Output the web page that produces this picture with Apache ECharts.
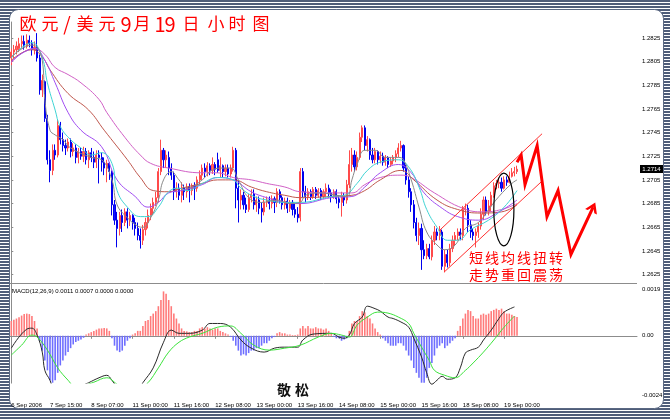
<!DOCTYPE html>
<html>
<head>
<meta charset="utf-8">
<script src="https://cdn.jsdelivr.net/npm/echarts@6.0.0/dist/echarts.min.js"></script>
<style>
html,body{margin:0;padding:0;overflow:hidden;}
body{width:670px;height:419px;background:repeating-linear-gradient(180deg,#4f5d79 0px,#4f5d79 2px,#ffffff 2px,#ffffff 3px);}
#chart{width:670px;height:419px;}
</style>
</head>
<body>
<div id="chart"></div>
<script>
// ---------------- DATA ----------------
const opens = [
1.2808,1.2813,1.2815,1.2816,1.2820,1.2822,1.2818,1.2823,1.2820,1.2815,
1.2817,1.2808,1.2781,1.2788,1.2757,1.2722,1.2713,1.2730,1.2726,1.2751,
1.2739,1.2734,1.2732,1.2737,1.2729,1.2732,1.2724,1.2729,1.2725,1.2729,
1.2722,1.2728,1.2724,1.2720,1.2726,1.2724,1.2720,1.2715,1.2719,1.2712,
1.2684,1.2671,1.2664,1.2675,1.2669,1.2678,1.2671,1.2675,1.2669,1.2664,
1.2658,1.2654,1.2663,1.2669,1.2675,1.2681,1.2686,1.2690,1.2712,1.2730,
1.2722,1.2724,1.2715,1.2709,1.2695,1.2698,1.2692,1.2698,1.2695,1.2699,
1.2696,1.2700,1.2698,1.2705,1.2709,1.2715,1.2712,1.2717,1.2713,1.2718,
1.2722,1.2713,1.2717,1.2712,1.2715,1.2710,1.2715,1.2730,1.2698,1.2688,
1.2692,1.2684,1.2680,1.2690,1.2693,1.2684,1.2688,1.2681,1.2678,1.2686,
1.2688,1.2685,1.2689,1.2686,1.2695,1.2690,1.2684,1.2687,1.2681,1.2686,
1.2680,1.2676,1.2673,1.2712,1.2695,1.2691,1.2695,1.2691,1.2697,1.2692,
1.2696,1.2691,1.2695,1.2698,1.2694,1.2691,1.2695,1.2689,1.2686,1.2691,
1.2688,1.2701,1.2718,1.2726,1.2716,1.2724,1.2741,1.2749,1.2734,1.2739,
1.2726,1.2722,1.2729,1.2722,1.2725,1.2720,1.2724,1.2718,1.2721,1.2724,
1.2727,1.2732,1.2734,1.2715,1.2705,1.2695,1.2684,1.2669,1.2658,1.2664,
1.2646,1.2641,1.2647,1.2640,1.2654,1.2661,1.2658,1.2661,1.2632,1.2642,
1.2635,1.2647,1.2654,1.2658,1.2661,1.2658,1.2680,1.2681,1.2667,1.2661,
1.2658,1.2661,1.2666,1.2676,1.2688,1.2678,1.2683,1.2692,1.2700,1.2702,
1.2703,1.2698,1.2705,1.2703,1.2708,1.2711,1.2712];
const closes = [
1.2813,1.2815,1.2818,1.2820,1.2822,1.2818,1.2823,1.2820,1.2815,1.2817,
1.2808,1.2781,1.2789,1.2757,1.2722,1.2713,1.2730,1.2726,1.2751,1.2739,
1.2734,1.2732,1.2737,1.2729,1.2732,1.2724,1.2729,1.2725,1.2729,1.2722,
1.2728,1.2724,1.2720,1.2726,1.2724,1.2720,1.2715,1.2719,1.2712,1.2684,
1.2671,1.2664,1.2675,1.2669,1.2678,1.2671,1.2675,1.2669,1.2664,1.2658,
1.2654,1.2663,1.2669,1.2675,1.2681,1.2686,1.2690,1.2712,1.2730,1.2722,
1.2726,1.2715,1.2709,1.2695,1.2698,1.2692,1.2698,1.2695,1.2699,1.2696,
1.2700,1.2698,1.2705,1.2709,1.2715,1.2712,1.2717,1.2713,1.2718,1.2714,
1.2713,1.2717,1.2712,1.2715,1.2710,1.2715,1.2730,1.2698,1.2688,1.2692,
1.2684,1.2680,1.2690,1.2693,1.2684,1.2688,1.2681,1.2678,1.2686,1.2688,
1.2685,1.2689,1.2686,1.2695,1.2690,1.2684,1.2687,1.2681,1.2686,1.2680,
1.2676,1.2673,1.2712,1.2695,1.2691,1.2695,1.2691,1.2697,1.2692,1.2696,
1.2691,1.2695,1.2698,1.2694,1.2691,1.2695,1.2689,1.2686,1.2691,1.2688,
1.2701,1.2718,1.2726,1.2716,1.2724,1.2741,1.2749,1.2734,1.2739,1.2726,
1.2722,1.2729,1.2722,1.2725,1.2720,1.2724,1.2718,1.2721,1.2724,1.2727,
1.2732,1.2734,1.2715,1.2705,1.2695,1.2684,1.2669,1.2658,1.2664,1.2646,
1.2641,1.2647,1.2640,1.2654,1.2661,1.2658,1.2663,1.2632,1.2642,1.2635,
1.2647,1.2654,1.2658,1.2661,1.2658,1.2680,1.2681,1.2667,1.2661,1.2658,
1.2661,1.2666,1.2676,1.2688,1.2678,1.2683,1.2692,1.2700,1.2702,1.2703,
1.2698,1.2705,1.2703,1.2708,1.2711,1.2712,1.2714];
const lows = [
1.2802,1.2808,1.2811,1.2813,1.2816,1.2815,1.2816,1.2817,1.2810,1.2811,
1.2805,1.2777,1.2775,1.2754,1.2718,1.2703,1.2709,1.2722,1.2724,1.2735,
1.2729,1.2726,1.2729,1.2724,1.2725,1.2719,1.2719,1.2722,1.2720,1.2718,
1.2715,1.2720,1.2715,1.2715,1.2702,1.2712,1.2709,1.2703,1.2705,1.2675,
1.2667,1.2648,1.2658,1.2661,1.2666,1.2664,1.2666,1.2663,1.2658,1.2654,
1.2647,1.2650,1.2658,1.2664,1.2671,1.2676,1.2683,1.2686,1.2709,1.2715,
1.2715,1.2709,1.2705,1.2688,1.2690,1.2688,1.2686,1.2688,1.2690,1.2686,
1.2692,1.2688,1.2695,1.2701,1.2705,1.2707,1.2708,1.2709,1.2710,1.2709,
1.2711,1.2707,1.2707,1.2708,1.2707,1.2707,1.2712,1.2681,1.2669,1.2680,
1.2680,1.2677,1.2678,1.2686,1.2680,1.2678,1.2676,1.2669,1.2675,1.2682,
1.2680,1.2681,1.2677,1.2682,1.2685,1.2680,1.2680,1.2677,1.2678,1.2675,
1.2673,1.2669,1.2670,1.2690,1.2686,1.2688,1.2688,1.2689,1.2689,1.2690,
1.2688,1.2689,1.2691,1.2690,1.2686,1.2689,1.2685,1.2681,1.2674,1.2683,
1.2685,1.2698,1.2712,1.2712,1.2713,1.2722,1.2737,1.2730,1.2729,1.2722,
1.2719,1.2719,1.2718,1.2719,1.2717,1.2717,1.2715,1.2716,1.2718,1.2720,
1.2724,1.2729,1.2712,1.2701,1.2690,1.2678,1.2664,1.2653,1.2650,1.2629,
1.2638,1.2638,1.2638,1.2637,1.2650,1.2654,1.2654,1.2629,1.2627,1.2631,
1.2632,1.2644,1.2649,1.2654,1.2654,1.2654,1.2675,1.2661,1.2656,1.2654,
1.2648,1.2656,1.2663,1.2671,1.2675,1.2675,1.2678,1.2690,1.2697,1.2698,
1.2695,1.2697,1.2700,1.2702,1.2707,1.2708,1.2710];
const highs = [
1.2816,1.2819,1.2822,1.2825,1.2827,1.2827,1.2828,1.2827,1.2823,1.2822,
1.2829,1.2811,1.2794,1.2789,1.2760,1.2730,1.2735,1.2735,1.2756,1.2754,
1.2745,1.2739,1.2740,1.2740,1.2736,1.2735,1.2732,1.2732,1.2733,1.2732,
1.2730,1.2732,1.2729,1.2730,1.2730,1.2728,1.2724,1.2722,1.2720,1.2713,
1.2688,1.2678,1.2678,1.2680,1.2681,1.2681,1.2678,1.2676,1.2673,1.2669,
1.2664,1.2667,1.2673,1.2680,1.2685,1.2690,1.2695,1.2715,1.2739,1.2732,
1.2730,1.2729,1.2719,1.2712,1.2703,1.2702,1.2703,1.2701,1.2702,1.2702,
1.2702,1.2703,1.2708,1.2713,1.2718,1.2719,1.2720,1.2719,1.2724,1.2720,
1.2728,1.2724,1.2718,1.2718,1.2718,1.2718,1.2733,1.2732,1.2705,1.2697,
1.2695,1.2690,1.2693,1.2697,1.2697,1.2691,1.2691,1.2686,1.2690,1.2691,
1.2691,1.2692,1.2691,1.2698,1.2697,1.2692,1.2690,1.2690,1.2688,1.2688,
1.2685,1.2682,1.2715,1.2715,1.2700,1.2698,1.2697,1.2699,1.2699,1.2698,
1.2698,1.2697,1.2702,1.2701,1.2697,1.2697,1.2697,1.2692,1.2695,1.2694,
1.2705,1.2730,1.2732,1.2730,1.2729,1.2745,1.2751,1.2751,1.2742,1.2740,
1.2732,1.2732,1.2730,1.2729,1.2728,1.2726,1.2725,1.2724,1.2726,1.2730,
1.2736,1.2738,1.2735,1.2718,1.2708,1.2698,1.2688,1.2673,1.2669,1.2668,
1.2654,1.2651,1.2651,1.2658,1.2666,1.2664,1.2666,1.2663,1.2646,1.2646,
1.2651,1.2658,1.2661,1.2664,1.2664,1.2683,1.2685,1.2684,1.2671,1.2664,
1.2664,1.2669,1.2681,1.2691,1.2691,1.2688,1.2695,1.2703,1.2705,1.2707,
1.2707,1.2708,1.2708,1.2712,1.2715,1.2716,1.2717];

// moving-average lines: [bar index] / [price]
const maGrayX = [0,8,12,13,15,17,20,23,31,35,39,41,45,49,51,54,57,59,62,65,68,74,77,81,85,88,92,97,103,108,112,114,120,126,130,132,134,137,141,145,150,152,155,158,161,165,168,172,176,181,185,189,194,196];
const maGrayY = [1.2809,1.2819,1.2806,1.2773,1.2747,1.2743,1.2739,1.2732,1.2724,1.2722,1.2705,1.2684,1.2673,1.2666,1.2665,1.2673,1.2688,1.2705,1.2712,1.2705,1.2698,1.2705,1.2712,1.2715,1.2715,1.2705,1.2690,1.2686,1.2688,1.2685,1.2686,1.2692,1.2694,1.2692,1.2691,1.2705,1.2718,1.2730,1.2730,1.2724,1.2724,1.2722,1.2705,1.2682,1.2661,1.2650,1.2646,1.2650,1.2664,1.2669,1.2680,1.2691,1.2702,1.2705];
const maCyanX = [0,8,12,14,17,19,23,27,31,35,39,41,45,50,53,57,61,65,68,74,80,86,89,94,99,106,112,124,129,134,138,143,150,154,158,161,165,169,173,178,185,191,196];
const maCyanY = [1.2808,1.2821,1.2808,1.2787,1.2764,1.2750,1.2739,1.2732,1.2726,1.2728,1.2719,1.2696,1.2682,1.2674,1.2674,1.2682,1.2695,1.2698,1.2696,1.2702,1.2707,1.2705,1.2698,1.2691,1.2688,1.2686,1.2686,1.2691,1.2692,1.2702,1.2713,1.2720,1.2722,1.2716,1.2699,1.2680,1.2665,1.2654,1.2654,1.2663,1.2671,1.2682,1.2696];
const maPurpleX = [0,9,13,17,22,27,35,41,48,53,57,61,66,74,80,86,93,99,106,112,124,132,137,143,150,155,160,167,173,181,189,196];
const maPurpleY = [1.2805,1.2816,1.2806,1.2787,1.2762,1.2747,1.2733,1.2705,1.2691,1.2682,1.2686,1.2694,1.2696,1.2701,1.2707,1.2705,1.2695,1.2690,1.2686,1.2685,1.2690,1.2691,1.2699,1.2711,1.2718,1.2711,1.2694,1.2681,1.2674,1.2671,1.2678,1.2688];
const maBrownX = [0,8,12,15,22,30,36,45,50,55,61,66,74,80,86,93,99,106,112,124,132,137,143,151,156,165,173,182,190,196];
const maBrownY = [1.2806,1.2815,1.2809,1.2798,1.2778,1.2764,1.2747,1.2722,1.2707,1.2696,1.2695,1.2698,1.2702,1.2705,1.2705,1.2699,1.2695,1.2692,1.2690,1.2691,1.2692,1.2696,1.2705,1.2713,1.2705,1.2688,1.2680,1.2677,1.2678,1.2684];
const maMagentaX = [0,4,9,13,17,22,27,34,37,44,50,54,61,74,80,86,93,99,106,112,124,132,137,143,151,155,164,175,183,190,196];
const maMagentaY = [1.2804,1.2812,1.2816,1.2811,1.2800,1.2794,1.2787,1.2773,1.2762,1.2741,1.2726,1.2719,1.2715,1.2711,1.2711,1.2707,1.2705,1.2702,1.2699,1.2695,1.2694,1.2694,1.2701,1.2707,1.2709,1.2707,1.2694,1.2681,1.2678,1.2680,1.2685];

// MACD histogram (one value per bar)
const macdHist = [
0.0006,0.00065,0.0007,0.00075,0.00082,0.00088,0.0009,0.00088,0.0008,0.0006,
0.0003,-0.0002,-0.0006,-0.001,-0.0014,-0.0018,-0.0019,-0.0018,-0.0015,-0.0012,
-0.001,-0.0008,-0.00066,-0.0005,-0.00035,-0.00025,-0.0002,-0.00015,-0.00008,0.00005,
0.0001,0.00015,0.0002,0.00025,0.0003,0.0003,0.00032,0.0003,0.0002,-0.0001,
-0.0004,-0.0006,-0.00066,-0.0006,-0.0004,-0.0002,-0.0001,0.00005,0.0001,0.0002,
0.0002,0.0004,0.0006,0.00064,0.0008,0.0009,0.001,0.0012,0.00145,0.0018,
0.0017,0.00145,0.0012,0.0009,0.0007,0.0005,0.0003,0.0002,0.00018,0.00015,
0.00015,0.0002,0.0002,0.0003,0.00035,0.0003,0.00035,0.0003,0.00025,0.0003,
0.0003,0.0002,0.00015,0.0001,0.00005,-0.00005,-0.0002,-0.0004,-0.0006,-0.0008,
-0.00075,-0.0008,-0.0007,-0.0006,-0.0006,-0.0005,-0.0005,-0.0004,-0.0003,-0.0003,
-0.0002,-0.0001,-0.00005,0.0001,0.00015,0.0001,0.0001,0.00005,0.00005,0.00003,
0.00003,0.00005,0.0003,0.0004,0.0003,0.0004,0.0003,0.0003,0.00035,0.0003,
0.0003,0.00025,0.0003,0.0002,0.0001,-0.00005,-0.0001,-0.0001,-0.0002,-0.00015,
-0.0001,0.0002,0.0005,0.0006,0.0006,0.0008,0.001,0.00095,0.0008,0.0007,
0.0005,0.0003,0.00015,0.00005,-0.0001,-0.0002,-0.0003,-0.0004,-0.0004,-0.0004,
-0.0003,-0.0003,-0.0004,-0.0006,-0.0008,-0.001,-0.0013,-0.0015,-0.0017,-0.0019,
-0.0019,-0.0017,-0.0013,-0.0011,-0.0008,-0.0005,-0.0004,-0.0003,-0.0005,-0.0004,
-0.0003,-0.0002,-0.0001,0.0002,0.0004,0.0007,0.0009,0.00105,0.001,0.0008,
0.0007,0.0007,0.00085,0.0009,0.00085,0.0009,0.001,0.00105,0.0011,0.00105,
0.0011,0.001,0.0009,0.0009,0.00085,0.0008,0.00076];
// MACD main (black) and signal (green) lines, sampled
const macdLineX = [0,6,8,10,12,13,15,17,21,25,28,30,34,37,39,42,46,49,51,55,59,62,65,69,74,77,81,85,89,93,98,102,106,111,113,117,124,127,129,131,133,136,138,141,143,146,148,151,154,156,159,161,163,165,167,169,172,174,176,178,181,183,186,189,191,195];
const macdLineY = [-0.0005,0.00027,0.00031,0.00003,-0.00066,-0.0014,-0.0018,-0.0023,-0.0024,-0.0023,-0.002,-0.0019,-0.0017,-0.0016,-0.0018,-0.0022,-0.0023,-0.0022,-0.0019,-0.0013,-0.00026,0.00023,0.0001,0.0001,0.00023,0.0005,0.0005,0.00035,-0.00017,-0.0005,-0.00066,-0.0005,-0.00046,-0.00046,-0.00017,0.00007,0.0001,-0.00005,-0.0001,0.00003,0.0005,0.00076,0.0012,0.0011,0.001,0.00076,0.0007,0.00056,0.00035,-0.0001,-0.00086,-0.0015,-0.00196,-0.0018,-0.00164,-0.00176,-0.0017,-0.0013,-0.0007,-0.00058,-0.00046,-0.00017,0.00023,0.0007,0.00096,0.00117];
const macdSignalX = [0,4,8,10,14,18,22,26,29,32,37,41,45,50,53,57,61,65,69,74,80,85,89,94,100,106,112,119,124,128,131,134,138,142,146,150,154,156,159,162,164,168,172,176,179,183,187,191,195];
const macdSignalY = [-0.00078,-0.00038,0.00003,-0.00005,-0.00058,-0.0013,-0.0018,-0.0022,-0.002,-0.00188,-0.0017,-0.00196,-0.0022,-0.0021,-0.0019,-0.0013,-0.00066,-0.00026,-0.00005,0.0001,0.00035,0.0004,0.0001,-0.00038,-0.00058,-0.0005,-0.00038,-0.00005,0.0001,0.00003,-0.00005,0.00043,0.00076,0.00096,0.00092,0.00076,0.0005,0.0001,-0.00046,-0.001,-0.0014,-0.0016,-0.0017,-0.0014,-0.0011,-0.00066,-0.00017,0.00035,0.0008];

// axis ticks / labels
const priceTicks = [1.2825,1.2805,1.2785,1.2765,1.2745,1.2725,1.2705,1.2685,1.2665,1.2645,1.2625];
const macdTicks = [0.0019,0,-0.0024];
const macdTickLabels = ['0.0019','0.00','-0.0024'];
const timeLabelIdx = [0,15,31,47,63,79,95,111,127,143,159,175,191];
const timeLabels = ['6 Sep 2006','7 Sep 15:00','8 Sep 07:00','11 Sep 00:00','11 Sep 16:00','12 Sep 08:00','13 Sep 00:00','13 Sep 16:00','14 Sep 08:00','15 Sep 00:00','15 Sep 16:00','18 Sep 08:00','19 Sep 00:00'];

// hand-drawn annotations (in data units)
const upperChX = [165.8,205.7], upperChY = [1.2662,1.2744];
const lowerChX = [167.7,205.7], lowerChY = [1.2627,1.2704];
const zigX = [196.0,197.6,199.1,203.8,207.6,211.9,216.9,225.5];
const zigY = [1.2720,1.2726,1.2701,1.2734,1.2674,1.2696,1.2642,1.2682];
const ellipseCenter = [190.9,1.2680], ellipseRadius = [3.9,0.00307];

// ---------------- CHART ----------------
const N_SLOTS = 243;
const cats = Array.from({length:N_SLOTS}, (_, i) => i);
const candleData = opens.map((o, i) => [o, closes[i], lows[i], highs[i]]);
const pair = (xs, ys) => xs.map((x, i) => [x, ys[i]]);
const FONT = "'Liberation Sans', Arial, sans-serif";
const CJK = "'Noto Sans CJK SC', sans-serif";

function maSeries(xs, ys, color) {
  return {type:'line', xAxisIndex:1, yAxisIndex:0, data:pair(xs, ys), symbol:'none',
    smooth:0.45, lineStyle:{color:color, width:1}, z:3};
}
const zigData = pair(zigX, zigY).map((p, i, a) => i === a.length - 1
  ? {value:p, symbol:'path://M0,12 L8,0 L16,12 L12.5,12 L8,5.5 L3.5,12 Z', symbolSize:[13,10], symbolRotate:-25}
  : {value:p});

const series = [
  {type:'candlestick', xAxisIndex:0, yAxisIndex:0, data:candleData, barWidth:1.6,
   itemStyle:{color:'#ff6a6a', color0:'#1414ff', borderColor:'#ff4a4a', borderColor0:'#0000ee', borderWidth:1}, z:2},
  maSeries(maMagentaX, maMagentaY, '#d160c6'),
  maSeries(maBrownX, maBrownY, '#c0584e'),
  maSeries(maPurpleX, maPurpleY, '#a24ef2'),
  maSeries(maCyanX, maCyanY, '#3fd4d4'),
  maSeries(maGrayX, maGrayY, '#8a8a8a'),
  {type:'line', xAxisIndex:1, yAxisIndex:0, data:pair(upperChX, upperChY), symbol:'none', lineStyle:{color:'#ff3030', width:1}, z:4},
  {type:'line', xAxisIndex:1, yAxisIndex:0, data:pair(lowerChX, lowerChY), symbol:'none', lineStyle:{color:'#ff3030', width:1}, z:4},
  {type:'line', xAxisIndex:1, yAxisIndex:0, data:zigData, symbol:'none', clip:false,
   lineStyle:{color:'#ff0000', width:3, join:'miter'}, itemStyle:{color:'#ff0000'}, z:5},
  {type:'bar', xAxisIndex:2, yAxisIndex:1, data:macdHist, barWidth:1.6,
   itemStyle:{color:p => p.value >= 0 ? '#ff7a7a' : '#6e6eff'}, z:2},
  {type:'line', xAxisIndex:3, yAxisIndex:1, data:pair(macdLineX, macdLineY), symbol:'none', smooth:0.4,
   lineStyle:{color:'#2a2a2a', width:1}, z:3},
  {type:'line', xAxisIndex:3, yAxisIndex:1, data:pair(macdSignalX, macdSignalY), symbol:'none', smooth:0.4,
   lineStyle:{color:'#3be33b', width:1}, z:3}
];
const ZIG = 8;

const titleChars = ['欧','元','/','美','元','9','月','1','9','日','小','时','图'];
const titleCx = [28,50,67,85,107,126,142,160,170,191,216,237,261];
const titleFs = [17,17,19,17,17,20,17,20,20,17,17,17,17];
const staticGraphics = [
  {type:'rect', z:-100, shape:{x:9.5, y:9.5, width:654, height:399, r:9}, style:{fill:'#ffffff', stroke:'#5a6882', lineWidth:1}},
  {type:'line', z:50, shape:{x1:10, y1:283.5, x2:637, y2:283.5}, style:{stroke:'#8c8c8c', lineWidth:1}},
  {type:'rect', z:60, shape:{x:10, y:383.5, width:321, height:16}, style:{fill:'#ffffff'}},
  {type:'text', z:70, x:12, y:291, style:{text:'MACD(12,26,9) 0.0011 0.0007 0.0000 0.0000', font:'6px ' + FONT, fill:'#000', verticalAlign:'middle'}},
  {type:'text', z:70, x:284, y:390, style:{text:'敬', font:'bold 14px ' + CJK, fill:'#111', align:'center', verticalAlign:'middle', shadowColor:'rgba(0,0,0,0.35)', shadowBlur:2, shadowOffsetX:2, shadowOffsetY:2}},
  {type:'text', z:70, x:302, y:390, style:{text:'松', font:'bold 14px ' + CJK, fill:'#111', align:'center', verticalAlign:'middle', shadowColor:'rgba(0,0,0,0.35)', shadowBlur:2, shadowOffsetX:2, shadowOffsetY:2}}
];
titleChars.forEach((ch, k) => staticGraphics.push({type:'text', z:70, x:titleCx[k], y:24,
  style:{text:ch, font:titleFs[k] + 'px ' + CJK, fill:'#ff0000', align:'center', verticalAlign:'middle',
  shadowColor:'rgba(0,0,0,0.3)', shadowBlur:2, shadowOffsetX:2, shadowOffsetY:2}}));
['短线均线扭转','走势重回震荡'].forEach((line, r) => Array.from(line).forEach((ch, k) =>
  staticGraphics.push({type:'text', z:70, x:476 + 16 * k, y:258 + 17 * r,
    style:{text:ch, font:'14px ' + CJK, fill:'#ff0000', align:'center', verticalAlign:'middle'}})));

const option = {
  animation:false,
  backgroundColor:'transparent',
  grid:[
    {left:10, right:33, top:22, height:261},
    {left:10, right:33, top:283, height:115}
  ],
  xAxis:[
    {type:'category', gridIndex:0, data:cats, boundaryGap:true, show:false},
    {type:'value', gridIndex:0, min:-0.5, max:N_SLOTS - 0.5, show:false},
    {type:'category', gridIndex:1, data:cats, boundaryGap:true,
     axisLine:{show:true, lineStyle:{color:'#8c8c8c', width:1}},
     axisTick:{show:true, alignWithLabel:true, length:3, interval:(i) => timeLabelIdx.includes(i), lineStyle:{color:'#8c8c8c'}},
     axisLabel:{show:true, interval:(i) => timeLabelIdx.includes(i), formatter:(v, i) => timeLabels[timeLabelIdx.indexOf(i)] || '',
       align:'left', fontSize:6, fontFamily:FONT, color:'#000', margin:4},
     splitLine:{show:false}},
    {type:'value', gridIndex:1, min:-0.5, max:N_SLOTS - 0.5, show:false}
  ],
  yAxis:[
    {type:'value', gridIndex:0, position:'right', min:1.26179, max:1.28384,
     axisLine:{show:true, lineStyle:{color:'#8c8c8c'}},
     axisTick:{show:true, length:2, customValues:priceTicks, lineStyle:{color:'#8c8c8c'}},
     axisLabel:{customValues:priceTicks, formatter:v => v.toFixed(4), fontSize:6, fontFamily:FONT, color:'#000', margin:5},
     splitLine:{show:false}},
    {type:'value', gridIndex:1, position:'right', min:-0.00252, max:0.00214,
     axisLine:{show:true, lineStyle:{color:'#8c8c8c'}},
     axisTick:{show:true, length:2, customValues:macdTicks, lineStyle:{color:'#8c8c8c'}},
     axisLabel:{customValues:macdTicks, formatter:v => macdTickLabels[macdTicks.findIndex(t => Math.abs(t - v) < 1e-9)] || '',
       fontSize:6, fontFamily:FONT, color:'#000', margin:5},
     splitLine:{show:false}}
  ],
  series:series,
  graphic:staticGraphics
};

const chart = echarts.init(document.getElementById('chart'), null, {renderer:'canvas'});
chart.setOption(option);

// annotations positioned through the chart's own scales
const c0 = chart.convertToPixel({seriesIndex:ZIG}, ellipseCenter);
const c1 = chart.convertToPixel({seriesIndex:ZIG}, [ellipseCenter[0] + ellipseRadius[0], ellipseCenter[1] + ellipseRadius[1]]);
const lastPrice = closes[closes.length - 1];
const py = chart.convertToPixel({yAxisIndex:0}, lastPrice);
const extra = [
  {type:'ellipse', z:80, shape:{cx:c0[0], cy:c0[1], rx:Math.abs(c1[0] - c0[0]), ry:Math.abs(c0[1] - c1[1])},
   style:{fill:null, stroke:'#000', lineWidth:1.2}},
  {type:'rect', z:80, shape:{x:640, y:Math.round(py) - 4, width:23, height:8}, style:{fill:'#000'}},
  {type:'text', z:81, x:651.5, y:Math.round(py), style:{text:lastPrice.toFixed(4), font:'6px ' + FONT, fill:'#fff', align:'center', verticalAlign:'middle'}}
];
chart.setOption({graphic:staticGraphics.concat(extra)});
</script>
</body>
</html>
